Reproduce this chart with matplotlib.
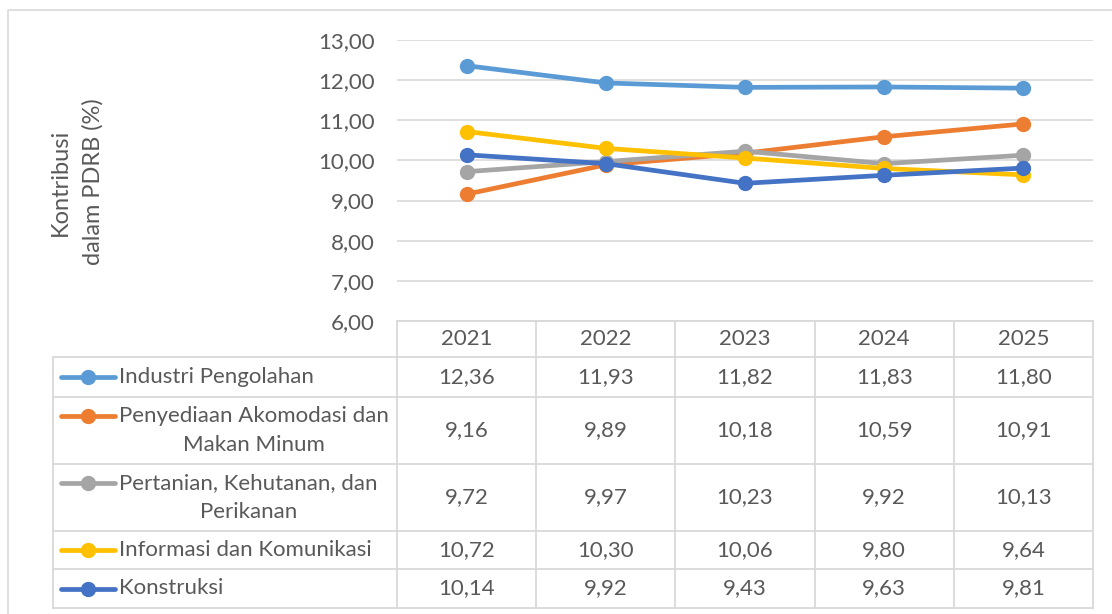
import numpy as np
import matplotlib
matplotlib.use("Agg")
import matplotlib.pyplot as plt
from matplotlib.lines import Line2D

# ── Data ──────────────────────────────────────────────────────────────────────
years = ["2021", "2022", "2023", "2024", "2025"]
series_names = [
    "Industri Pengolahan",
    "Penyediaan Akomodasi dan\nMakan Minum",
    "Pertanian, Kehutanan, dan\nPerikanan",
    "Informasi dan Komunikasi",
    "Konstruksi",
]
industri = [12.36, 11.93, 11.82, 11.83, 11.80]
akomodasi = [9.16, 9.89, 10.18, 10.59, 10.91]
pertanian = [9.72, 9.97, 10.23, 9.92, 10.13]
informasi = [10.72, 10.30, 10.06, 9.80, 9.64]
konstruksi = [10.14, 9.92, 9.43, 9.63, 9.81]
y_ticks = [6, 7, 8, 9, 10, 11, 12, 13]

series_values = [industri, akomodasi, pertanian, informasi, konstruksi]
colors = ["#5B9BD5", "#ED7D31", "#A5A5A5", "#FFC000", "#4472C4"]

W, H = 1112, 614
TEXT = "#595959"
GRID = "#D9D9D9"
FONT = "Lato"
FS = 16


def fmt(v):
    return f"{v:.2f}".replace(".", ",")


fig = plt.figure(figsize=(W / 100, H / 100), dpi=100)
plt.rcParams["font.family"] = [FONT, "DejaVu Sans"]

# overlay in pixel coordinates for the border and the data table
ov = fig.add_axes([0, 0, 1, 1])
ov.set_xlim(0, W)
ov.set_ylim(H, 0)
ov.axis("off")

# chart border
ov.plot([8, 8, W + 5], [H + 5, 10, 10], color=GRID, lw=1.2)

# ── Line chart ────────────────────────────────────────────────────────────────
x0, x1 = 397, 1093
y_top, y_bot = 40, 321
ax = fig.add_axes([x0 / W, 1 - y_bot / H, (x1 - x0) / W, (y_bot - y_top) / H])
ax.patch.set_alpha(0)
x = np.arange(len(years))
for vals, c in zip(series_values, colors):
    ax.plot(x, vals, color=c, lw=3.4, marker="o", ms=10, solid_capstyle="round")
ax.set_xlim(-0.5, len(years) - 0.5)
ax.set_ylim(y_ticks[0], y_ticks[-1])
ax.set_yticks(y_ticks)
ax.set_yticklabels([fmt(v) for v in y_ticks], color=TEXT, fontsize=FS)
ax.tick_params(axis="y", length=0, pad=16)
ax.set_xticks([])
ax.grid(axis="y", color=GRID, lw=1.2)
ax.set_axisbelow(True)
for s in ax.spines.values():
    s.set_visible(False)

fig.text(77 / W, 1 - 182 / H, "Kontribusi\ndalam PDRB (%)", rotation=90,
         ha="center", va="center", color=TEXT, fontsize=17,
         linespacing=1.65, multialignment="center")

# ── Data table ────────────────────────────────────────────────────────────────
lab_left = 53
row_edges = [321, 357, 397, 464, 531, 569, 608]
col_w = (x1 - x0) / len(years)
col_edges = [x0 + i * col_w for i in range(len(years) + 1)]
tkw = dict(color=GRID, lw=1.3, zorder=1)

ov.plot([x0, x1], [row_edges[0]] * 2, **tkw)
for ye in row_edges[1:]:
    ov.plot([lab_left, x1], [ye, ye], **tkw)
for xe in col_edges:
    ov.plot([xe, xe], [row_edges[0], row_edges[-1]], **tkw)
ov.plot([lab_left, lab_left], [row_edges[1], row_edges[-1]], **tkw)

for i, yr in enumerate(years):
    ov.text(x0 + (i + 0.5) * col_w, (row_edges[0] + row_edges[1]) / 2, yr,
            ha="center", va="center", color=TEXT, fontsize=FS)

for r, (name, vals, c) in enumerate(zip(series_names, series_values, colors)):
    top, bot = row_edges[r + 1], row_edges[r + 2]
    mid = (top + bot) / 2
    two_lines = "\n" in name
    key_y = mid - 15 if two_lines else mid
    ov.add_line(Line2D([61, 115], [key_y, key_y], color=c, lw=3.4,
                       solid_capstyle="round"))
    ov.plot([88], [key_y], marker="o", ms=10, color=c)
    ov.text(119, mid, name, ha="left", va="center", color=TEXT, fontsize=FS,
            multialignment="center", linespacing=1.6)
    for i, v in enumerate(vals):
        ov.text(x0 + (i + 0.5) * col_w, mid, fmt(v), ha="center", va="center",
                color=TEXT, fontsize=FS)

fig.savefig("out.png", dpi=100)
